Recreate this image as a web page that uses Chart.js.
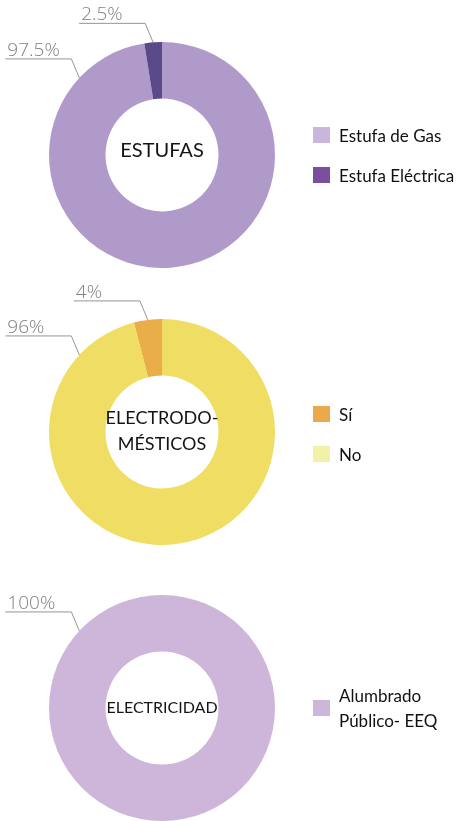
<!DOCTYPE html>
<html>
<head>
<meta charset="utf-8">
<script src="https://cdn.jsdelivr.net/npm/chart.js@4.4.0/dist/chart.umd.min.js"></script>
<style>
  body { margin: 0; background: #fff; width: 461px; height: 821px; overflow: hidden; position: relative; font-family: Lato, "Open Sans", sans-serif; }
  .panel { position: absolute; left: 0; width: 461px; height: 280px; }
  .panel canvas { position: absolute; left: 0; top: 0; }
  .legend { position: absolute; left: 313px; width: 148px; }
  .legend .item { display: flex; align-items: center; height: 40px; font-size: 17px; color: #111; }
  .legend .box { width: 17px; height: 16px; margin-right: 9px; flex: none; }
  .legend .txt { width: 118px; line-height: 25px; }
</style>
</head>
<body>
<div class="panel" id="p1" style="top:0"><canvas id="c1" width="461" height="280"></canvas><div class="legend" id="l1"></div></div>
<div class="panel" id="p2" style="top:277px"><canvas id="c2" width="461" height="280"></canvas><div class="legend" id="l2"></div></div>
<div class="panel" id="p3" style="top:553px"><canvas id="c3" width="461" height="280"></canvas><div class="legend" id="l3"></div></div>
<script>
// estufas
const estufaLabels = ['Estufa de Gas', 'Estufa Eléctrica'];
const estufaValues = [97.5, 2.5];
const estufaColors = ['#b09aca', '#5b4a8a'];
const estufaLegendColors = ['#cab6dc', '#7a4f9f'];
const estufaTitle = ['ESTUFAS'];

// electrodomésticos
const electroLabels = ['Sí', 'No'];
const electroValues = [4, 96];
const electroColors = ['#e9ad4a', '#f0dd64'];
const electroLegendColors = ['#eaaa4a', '#f3f0a8'];
const electroTitle = ['ELECTRODO-', 'MÉSTICOS'];

// electricidad
const luzLabels = ['Alumbrado Público- EEQ'];
const luzValues = [100];
const luzColors = ['#cdb6d9'];
const luzLegendColors = ['#cdb6d9'];
const luzTitle = ['ELECTRICIDAD'];

// texto central + etiquetas con línea guía
const labelPlugin = {
    id: 'labelPlugin',
    afterDraw(chart, args, opts) {
        const ctx = chart.ctx;
        const meta = chart.getDatasetMeta(0);
        const values = chart.data.datasets[0].data;

        ctx.save();
        meta.data.forEach((arc, i) => {
            const p = arc.getProps(['x', 'y', 'startAngle', 'endAngle', 'outerRadius'], true);
            let ang = (p.startAngle + p.endAngle) / 2;
            if (values[i] > 50) ang = -Math.PI / 2 - 47 * Math.PI / 180;
            const ax = p.x + Math.cos(ang) * p.outerRadius;
            const ay = p.y + Math.sin(ang) * p.outerRadius;
            const ly = ay - 19;

            ctx.strokeStyle = '#959595';
            ctx.lineWidth = 1;
            ctx.beginPath();
            ctx.moveTo(ax, ay);
            ctx.lineTo(ax - 8, ly);
            ctx.lineTo(ax - 74, ly);
            ctx.stroke();

            ctx.fillStyle = '#808080';
            ctx.font = '300 19px "Open Sans"';
            ctx.textAlign = 'left';
            ctx.textBaseline = 'alphabetic';
            ctx.fillText(values[i] + '%', ax - 72, ly - 3);
        });

        const c = meta.data[0];
        ctx.fillStyle = '#141414';
        ctx.font = opts.font;
        ctx.textAlign = 'center';
        ctx.textBaseline = 'middle';
        const lines = opts.lines;
        const gap = opts.lineHeight;
        lines.forEach((t, k) => {
            ctx.fillText(t, c.x, c.y + opts.offset + (k - (lines.length - 1) / 2) * gap);
        });
        ctx.restore();
    }
};

function buildLegend(id, labels, colors) {
    const el = document.getElementById(id);
    el.style.top = (155 - labels.length * 20 + (id === 'l2' ? 2 : 0)) + 'px';
    labels.forEach((lab, i) => {
        const item = document.createElement('div');
        item.className = 'item';
        item.innerHTML = '<span class="box" style="background:' + colors[i] + '"></span><span class="txt"></span>';
        item.querySelector('.txt').textContent = lab;
        el.appendChild(item);
    });
}

function makeDonut(id, labels, values, colors, rotation, center) {
    return new Chart(document.getElementById(id), {
        type: 'doughnut',
        data: {
            labels: labels,
            datasets: [{
                data: values,
                backgroundColor: colors,
                borderWidth: 0
            }]
        },
        options: {
            responsive: false,
            animation: false,
            cutout: '50%',
            rotation: rotation,
            layout: { padding: { left: 49, right: 186, top: 42, bottom: 12 } },
            plugins: {
                legend: { display: false },
                tooltip: { enabled: false },
                labelPlugin: center
            }
        },
        plugins: [labelPlugin]
    });
}

makeDonut('c1', estufaLabels, estufaValues, estufaColors, 0,
    { lines: estufaTitle, font: '20px Lato', lineHeight: 26, offset: -4 });
makeDonut('c2', electroLabels, electroValues, electroColors, -360 * electroValues[0] / 100,
    { lines: electroTitle, font: '18px Lato', lineHeight: 26, offset: -1 });
makeDonut('c3', luzLabels, luzValues, luzColors, 0,
    { lines: luzTitle, font: '16px Lato', lineHeight: 26, offset: 0 });

buildLegend('l1', estufaLabels, estufaLegendColors);
buildLegend('l2', electroLabels, electroLegendColors);
buildLegend('l3', luzLabels, luzLegendColors);
</script>
</body>
</html>
